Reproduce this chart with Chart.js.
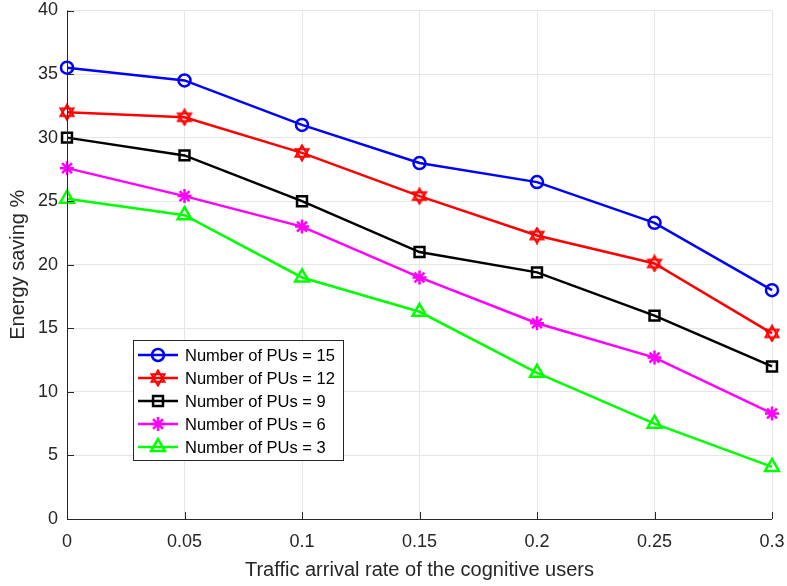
<!DOCTYPE html>
<html>
<head>
<meta charset="utf-8">
<script src="https://cdn.jsdelivr.net/npm/chart.js@4/dist/chart.umd.min.js"></script>
<style>
  html, body { margin: 0; padding: 0; background: #fff; }
  #wrap { width: 787px; height: 586px; position: relative; }
</style>
</head>
<body>
<div id="wrap"><canvas id="chart" width="787" height="586"></canvas></div>
<script>
// traffic arrival rate (x) and energy saving % per PU count
const rates = [0, 0.05, 0.1, 0.15, 0.2, 0.25, 0.3]
const xTickLabels = ['0', '0.05', '0.1', '0.15', '0.2', '0.25', '0.3']
const yTicks = [0, 5, 10, 15, 20, 25, 30, 35, 40]
const pu15 = [35.5, 34.5, 31.0, 28.0, 26.5, 23.3, 18.0]
const pu12 = [32.0, 31.6, 28.8, 25.4, 22.3, 20.1, 14.6]
const pu9 = [30.0, 28.6, 25.0, 21.0, 19.4, 16.0, 12.0]
const pu6 = [27.6, 25.4, 23.0, 19.0, 15.4, 12.7, 8.3]
const pu3 = [25.2, 23.9, 19.0, 16.3, 11.5, 7.5, 4.1]
const seriesNames = ['Number of PUs = 15', 'Number of PUs = 12', 'Number of PUs = 9', 'Number of PUs = 6', 'Number of PUs = 3']

const FONT = 'Liberation Sans, Arial, Helvetica, sans-serif'
const AXIS = '#262626'

// six-pointed star marker (not a built-in point style)
function hexagram(color) {
  const c = document.createElement('canvas')
  c.width = 18
  c.height = 18
  const g = c.getContext('2d')
  g.strokeStyle = color
  g.lineWidth = 2
  const r = 7.5, cx = 9, cy = 9
  for (const start of [-Math.PI / 2, Math.PI / 2]) {
    g.beginPath()
    for (let i = 0; i < 3; i++) {
      const a = start + i * 2 * Math.PI / 3
      const px = cx + r * Math.cos(a), py = cy + r * Math.sin(a)
      i ? g.lineTo(px, py) : g.moveTo(px, py)
    }
    g.closePath()
    g.stroke()
  }
  return c
}
const hexRed = hexagram('#ff0000')

function toPoints(vals) {
  return vals.map((v, i) => ({ x: rates[i], y: v }))
}

const styles = [
  { color: '#0000ff', pointStyle: 'circle', radius: 6 },
  { color: '#ff0000', pointStyle: hexRed, radius: 8 },
  { color: '#000000', pointStyle: 'rect', radius: 7 },
  { color: '#ff00ff', pointStyle: 'star', radius: 7 },
  { color: '#00ff00', pointStyle: 'triangle', radius: 8 },
]
const allSeries = [pu15, pu12, pu9, pu6, pu3]

const datasets = allSeries.map((vals, i) => ({
  label: seriesNames[i],
  data: toPoints(vals),
  borderColor: styles[i].color,
  backgroundColor: 'rgba(0,0,0,0)',
  borderWidth: 2.5,
  pointStyle: styles[i].pointStyle,
  pointRadius: styles[i].radius,
  pointBorderWidth: 2.5,
  pointBorderColor: styles[i].color,
  pointBackgroundColor: 'rgba(0,0,0,0)',
  tension: 0,
  clip: false,
}))

// MATLAB-style axes (left + bottom, inward ticks) and the legend box
const frame = {
  id: 'frame',
  afterDraw(chart) {
    const { ctx, chartArea: a } = chart
    const xs = chart.scales.x, ys = chart.scales.y
    ctx.save()
    ctx.strokeStyle = AXIS
    ctx.lineWidth = 1
    ctx.beginPath()
    ctx.moveTo(a.left + 0.5, a.top)
    ctx.lineTo(a.left + 0.5, a.bottom + 0.5)
    ctx.lineTo(a.right, a.bottom + 0.5)
    rates.forEach((v) => {
      const px = Math.round(xs.getPixelForValue(v)) + 0.5
      ctx.moveTo(px, a.bottom)
      ctx.lineTo(px, a.bottom - 7)
    })
    yTicks.forEach((v) => {
      const py = Math.round(ys.getPixelForValue(v)) + 0.5
      ctx.moveTo(a.left, py)
      ctx.lineTo(a.left + 7, py)
    })
    ctx.stroke()

    // legend
    const lx = 133, ly = 340, lw = 210, lh = 120
    ctx.fillStyle = '#fff'
    ctx.fillRect(lx, ly, lw, lh)
    ctx.strokeStyle = AXIS
    ctx.strokeRect(lx + 0.5, ly + 0.5, lw, lh)
    ctx.font = '16.5px ' + FONT
    ctx.textBaseline = 'middle'
    datasets.forEach((ds, i) => {
      const y = ly + 15 + i * 23
      ctx.strokeStyle = ds.borderColor
      ctx.lineWidth = 2.5
      ctx.beginPath()
      ctx.moveTo(lx + 5, y)
      ctx.lineTo(lx + 45, y)
      ctx.stroke()
      ctx.fillStyle = 'rgba(0,0,0,0)'
      Chart.helpers.drawPoint(ctx, {
        pointStyle: ds.pointStyle,
        radius: ds.pointRadius,
        borderWidth: 2.5,
        rotation: 0,
      }, lx + 25, y)
      ctx.fillStyle = '#000'
      ctx.fillText(ds.label, lx + 52, y + 1)
    })
    ctx.restore()
  },
}

new Chart(document.getElementById('chart'), {
  type: 'line',
  data: { datasets },
  options: {
    responsive: false,
    animation: false,
    layout: { padding: { top: 8, right: 15, left: 0, bottom: 0 } },
    plugins: { legend: { display: false }, tooltip: { enabled: false } },
    scales: {
      x: {
        type: 'linear',
        min: 0,
        max: 0.3,
        afterBuildTicks: (s) => { s.ticks = rates.map((v) => ({ value: v })) },
        afterFit: (s) => {
          s.height = 67
          s.paddingLeft = 0
          s.paddingRight = 0
        },
        ticks: {
          callback: (v, i) => xTickLabels[i],
          color: AXIS,
          font: { size: 18, family: FONT },
          maxRotation: 0,
          padding: 12,
        },
        grid: { color: '#e6e6e6', drawTicks: false },
        border: { display: false },
        title: {
          display: true,
          text: 'Traffic arrival rate of the cognitive users',
          color: AXIS,
          font: { size: 20, family: FONT },
          padding: { top: 2 },
        },
      },
      y: {
        min: 0,
        max: 40,
        afterBuildTicks: (s) => { s.ticks = yTicks.map((v) => ({ value: v })) },
        afterFit: (s) => {
          s.width = 67
          s.paddingTop = 0
          s.paddingBottom = 0
        },
        ticks: {
          color: AXIS,
          font: { size: 18, family: FONT },
          padding: 9,
        },
        grid: { color: '#e6e6e6', drawTicks: false },
        border: { display: false },
        title: {
          display: true,
          text: 'Energy saving %',
          color: AXIS,
          font: { size: 20, family: FONT },
          padding: { top: 6, bottom: 0 },
        },
      },
    },
  },
  plugins: [frame],
})
</script>
</body>
</html>
